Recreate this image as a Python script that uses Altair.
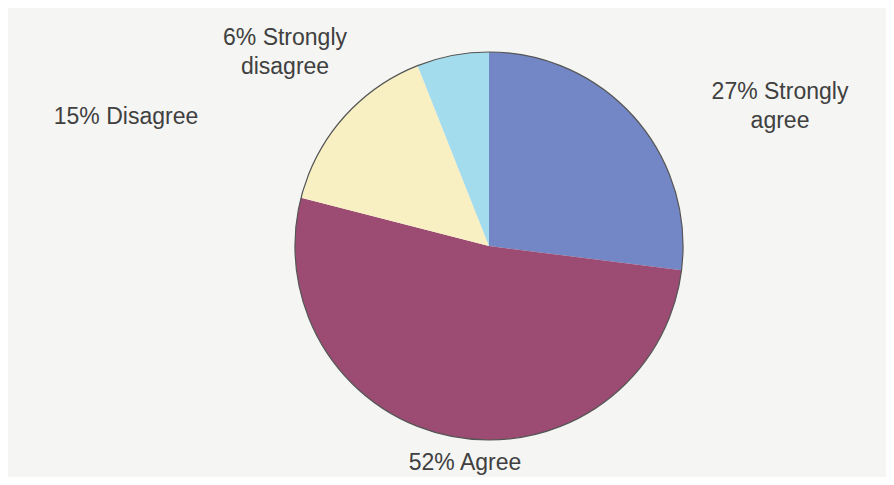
import altair as alt
import pandas as pd

categories = ["Strongly agree", "Agree", "Disagree", "Strongly disagree"]
percents = [27, 52, 15, 6]
colors = ["#7387c6", "#9c4b73", "#f8f0c3", "#a3dced"]

label_texts = [["27% Strongly", "agree"], ["52% Agree"], ["15% Disagree"], ["6% Strongly", "disagree"]]
# label anchor positions (view pixels) - layout only
label_x = [772, 457, 118, 277]
label_y = [84, 455, 109, 30]

df = pd.DataFrame({"cat": categories, "pct": percents, "order": list(range(len(categories)))})
lab = pd.DataFrame({"text": label_texts, "lx": label_x, "ly": label_y})
ring = pd.DataFrame({"v": [sum(percents)]})

cx, cy, r = 481, 238, 194

pie = alt.Chart(df).mark_arc(radius=r, strokeWidth=0).encode(
    theta=alt.Theta("pct:Q", stack=True),
    order=alt.Order("order:Q"),
    color=alt.Color("cat:N", scale=alt.Scale(domain=categories, range=colors), legend=None),
    x=alt.value(cx), y=alt.value(cy),
)

outline = alt.Chart(ring).mark_arc(
    radius=r, fillOpacity=0, stroke="#555555", strokeWidth=1.2
).encode(theta=alt.Theta("v:Q"), x=alt.value(cx), y=alt.value(cy))

labels = alt.Chart(lab).mark_text(
    font="Liberation Sans", fontSize=23, color="#404040", align="center",
    baseline="middle", lineHeight=29
).encode(
    x=alt.X("lx:Q", scale=None), y=alt.Y("ly:Q", scale=None), text="text"
)

chart = alt.layer(pie, outline, labels).resolve_scale(theta="independent").properties(
    width=878, height=469, background="#f5f5f3", padding=0,
    autosize=alt.AutoSizeParams(type="none")
).configure_view(stroke=None)

chart.save("out.html", embed_options={"renderer": "svg", "actions": False})
